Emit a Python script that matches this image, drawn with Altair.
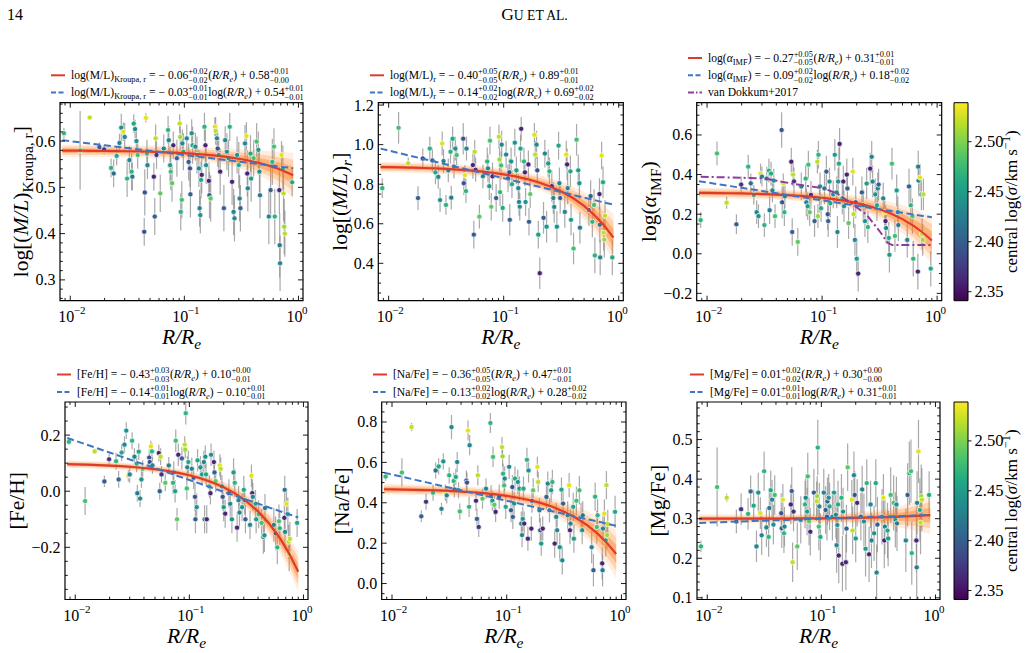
import math
import altair as alt
import pandas as pd

FONT = "Liberation Serif"
W, H = 1027, 653

# ---------------------------------------------------------------- data
# radial bins (R/Re) and the central velocity dispersion of their host galaxy
R_RE = [0.0088, 0.0122, 0.0148, 0.018, 0.0198, 0.0228, 0.024, 0.0255, 0.027, 0.028,
        0.0292, 0.030, 0.0315, 0.033, 0.0345, 0.035, 0.036, 0.037, 0.038, 0.039,
        0.0445, 0.045, 0.046, 0.047, 0.0475, 0.054, 0.055, 0.056, 0.057, 0.0615,
        0.066, 0.072, 0.073, 0.075, 0.076, 0.078, 0.080, 0.086, 0.091, 0.092,
        0.093, 0.095, 0.096, 0.098, 0.105, 0.109, 0.112, 0.113, 0.116, 0.118,
        0.125, 0.129, 0.134, 0.136, 0.138, 0.140, 0.142, 0.150, 0.153, 0.155,
        0.164, 0.166, 0.170, 0.185, 0.188, 0.193, 0.196, 0.200, 0.206, 0.222,
        0.228, 0.236, 0.244, 0.250, 0.262, 0.270, 0.275, 0.290, 0.300, 0.305,
        0.310, 0.340, 0.350, 0.356, 0.360, 0.380, 0.385, 0.405, 0.430, 0.445,
        0.455, 0.460, 0.550, 0.570, 0.590, 0.610, 0.620, 0.680, 0.685, 0.690,
        0.710, 0.730, 0.740, 0.750, 0.760, 0.880]

LOG_SIGMA = [2.47, 2.48, 2.52, 2.40, 2.37, 2.47, 2.41, 2.46, 2.43, 2.44,
             2.53, 2.43, 2.47, 2.43, 2.47, 2.42, 2.46, 2.43, 2.44, 2.48,
             2.39, 2.39, 2.53, 2.47, 2.43, 2.36, 2.40, 2.52, 2.37, 2.49,
             2.43, 2.47, 2.43, 2.45, 2.48, 2.49, 2.36, 2.40, 2.52, 2.51,
             2.47, 2.48, 2.43, 2.46, 2.43, 2.40, 2.39, 2.40, 2.44, 2.46,
             2.44, 2.45, 2.43, 2.43, 2.44, 2.46, 2.36, 2.47, 2.36, 2.44,
             2.36, 2.40, 2.49, 2.53, 2.52, 2.43, 2.39, 2.45, 2.36, 2.40,
             2.43, 2.44, 2.45, 2.47, 2.36, 2.43, 2.43, 2.44, 2.46, 2.43,
             2.40, 2.43, 2.53, 2.36, 2.43, 2.46, 2.45, 2.48, 2.48, 2.45,
             2.44, 2.42, 2.43, 2.40, 2.47, 2.48, 2.47, 2.36, 2.42, 2.43,
             2.53, 2.46, 2.52, 2.51, 2.52, 2.46]

ML_KROUPA = [0.617, 0.580, 0.651, 0.587, 0.582, 0.542, 0.530, 0.568, 0.596, 0.629,
             0.620, 0.609, 0.519, 0.559, 0.534, 0.523, 0.638, 0.626, 0.600, 0.570,
             0.404, 0.489, 0.650, 0.573, 0.548, 0.523, 0.437, 0.606, 0.570, 0.487,
             0.584, 0.624, 0.602, 0.548, 0.534, 0.509, 0.591, 0.563, 0.638, 0.609,
             0.447, 0.473, 0.595, 0.577, 0.606, 0.555, 0.541, 0.485, 0.617, 0.591,
             0.588, 0.570, 0.541, 0.455, 0.440, 0.516, 0.527, 0.631, 0.591, 0.548,
             0.514, 0.483, 0.476, 0.631, 0.622, 0.606, 0.584, 0.570, 0.534, 0.455,
             0.602, 0.577, 0.563, 0.631, 0.512, 0.447, 0.433, 0.570, 0.548, 0.476,
             0.455, 0.595, 0.611, 0.530, 0.498, 0.573, 0.519, 0.563, 0.599, 0.581,
             0.534, 0.483, 0.437, 0.494, 0.555, 0.588, 0.437, 0.494, 0.375, 0.336,
             0.570, 0.541, 0.487, 0.415, 0.400, 0.511]
ML_KROUPA_ERR = [0.012, 0.085, 0.005, 0.010, 0.010, 0.020, 0.030, 0.020, 0.020, 0.030,
                 0.020, 0.030, 0.040, 0.030, 0.040, 0.030, 0.020, 0.020, 0.030, 0.030,
                 0.030, 0.050, 0.010, 0.030, 0.030, 0.030, 0.040, 0.030, 0.030, 0.040,
                 0.030, 0.030, 0.030, 0.040, 0.040, 0.040, 0.030, 0.040, 0.020, 0.030,
                 0.040, 0.040, 0.030, 0.040, 0.030, 0.040, 0.040, 0.050, 0.030, 0.040,
                 0.030, 0.040, 0.040, 0.040, 0.040, 0.040, 0.040, 0.030, 0.040, 0.040,
                 0.040, 0.050, 0.050, 0.020, 0.030, 0.030, 0.040, 0.040, 0.050, 0.050,
                 0.030, 0.040, 0.040, 0.030, 0.050, 0.050, 0.050, 0.040, 0.050, 0.050,
                 0.050, 0.040, 0.030, 0.050, 0.050, 0.040, 0.050, 0.040, 0.040, 0.040,
                 0.050, 0.050, 0.060, 0.060, 0.050, 0.040, 0.060, 0.050, 0.070, 0.060,
                 0.030, 0.050, 0.060, 0.060, 0.050, 0.030]

ML_R = [0.780, 1.085, 0.905, 0.730, 0.930, 0.980, 0.920, 0.860, 0.837, 0.720,
        1.006, 0.917, 0.695, 0.870, 0.964, 0.732, 1.030, 0.889, 0.980, 0.947,
        1.030, 0.805, 0.846, 0.765, 0.980, 0.897, 0.545, 0.964, 0.873, 0.636,
        0.840, 0.915, 0.880, 0.790, 1.020, 0.686, 0.840, 0.730, 1.040, 0.925,
        0.760, 0.895, 1.000, 0.680, 0.950, 0.830, 0.860, 0.620, 0.915, 0.800,
        1.010, 0.870, 0.780, 0.710, 0.686, 0.980, 1.080, 0.915, 0.860, 0.710,
        0.900, 0.610, 0.750, 1.050, 0.950, 1.000, 0.870, 0.545, 0.350, 0.630,
        0.955, 0.585, 0.905, 0.865, 0.790, 0.730, 0.685, 0.585, 0.995, 0.805,
        0.730, 0.660, 0.950, 0.900, 0.780, 0.865, 0.620, 0.475, 1.025, 0.870,
        0.805, 0.580, 0.670, 0.740, 0.610, 0.695, 0.440, 0.750, 0.595, 0.430,
        0.945, 0.810, 0.555, 0.520, 0.640, 0.430]
ML_R_ERR = [0.05, 0.08, 0.03, 0.06, 0.05, 0.06, 0.06, 0.06, 0.06, 0.06,
            0.06, 0.06, 0.05, 0.06, 0.06, 0.06, 0.06, 0.06, 0.06, 0.05,
            0.08, 0.06, 0.05, 0.06, 0.06, 0.07, 0.07, 0.06, 0.06, 0.06,
            0.06, 0.07, 0.07, 0.07, 0.07, 0.07, 0.07, 0.07, 0.06, 0.06,
            0.07, 0.07, 0.07, 0.07, 0.07, 0.07, 0.07, 0.08, 0.07, 0.07,
            0.07, 0.07, 0.07, 0.07, 0.07, 0.07, 0.06, 0.07, 0.07, 0.07,
            0.07, 0.07, 0.07, 0.06, 0.07, 0.07, 0.07, 0.07, 0.08, 0.08,
            0.07, 0.08, 0.07, 0.07, 0.08, 0.08, 0.08, 0.08, 0.07, 0.08,
            0.08, 0.08, 0.07, 0.08, 0.08, 0.08, 0.08, 0.08, 0.08, 0.08,
            0.08, 0.08, 0.08, 0.08, 0.08, 0.08, 0.09, 0.08, 0.09, 0.09,
            0.07, 0.08, 0.09, 0.09, 0.08, 0.09]

LOG_ALPHA = [0.170, 0.507, 0.258, 0.149, 0.350, 0.440, 0.356, 0.297, 0.210, 0.190,
             0.405, 0.390, 0.145, 0.380, 0.420, 0.220, 0.405, 0.320, 0.370, 0.190,
             0.625, 0.260, 0.356, 0.210, 0.290, 0.465, 0.110, 0.400, 0.366, 0.060,
             0.340, 0.380, 0.260, 0.240, 0.450, 0.210, 0.297, 0.165, 0.465, 0.190,
             0.500, 0.280, 0.340, 0.230, 0.330, 0.415, 0.200, 0.165, 0.365, 0.255,
             0.300, 0.500, 0.310, 0.110, 0.365, 0.455, 0.555, 0.280, 0.365, 0.240,
             0.400, 0.330, 0.155, 0.415, 0.200, 0.070, 0.260, -0.025, -0.100, 0.310,
             0.245, 0.165, 0.355, 0.135, 0.430, 0.490, 0.365, 0.300, 0.245, 0.330,
             0.350, 0.280, 0.210, 0.165, 0.130, 0.080, -0.005, 0.455, 0.090, 0.320,
             0.210, 0.145, 0.070, 0.340, 0.245, 0.190, -0.025, -0.090, 0.440, 0.370,
             0.385, 0.300, 0.100, 0.070, 0.300, -0.075]
LOG_ALPHA_ERR = [0.04, 0.06, 0.03, 0.05, 0.04, 0.06, 0.05, 0.05, 0.06, 0.06,
                 0.05, 0.05, 0.06, 0.06, 0.06, 0.07, 0.06, 0.06, 0.06, 0.06,
                 0.09, 0.08, 0.05, 0.07, 0.06, 0.07, 0.07, 0.06, 0.07, 0.07,
                 0.07, 0.07, 0.07, 0.07, 0.07, 0.07, 0.07, 0.08, 0.06, 0.06,
                 0.07, 0.07, 0.07, 0.07, 0.08, 0.08, 0.08, 0.08, 0.07, 0.07,
                 0.07, 0.08, 0.08, 0.08, 0.07, 0.08, 0.08, 0.08, 0.08, 0.08,
                 0.08, 0.08, 0.08, 0.07, 0.07, 0.08, 0.08, 0.09, 0.09, 0.08,
                 0.08, 0.08, 0.08, 0.08, 0.08, 0.08, 0.08, 0.08, 0.08, 0.08,
                 0.08, 0.08, 0.07, 0.08, 0.08, 0.08, 0.09, 0.08, 0.08, 0.08,
                 0.08, 0.08, 0.09, 0.09, 0.09, 0.09, 0.09, 0.09, 0.08, 0.08,
                 0.07, 0.08, 0.08, 0.08, 0.08, 0.09]

FE_H = [0.176, -0.035, 0.142, 0.035, 0.114, 0.107, 0.042, 0.138, 0.166, 0.216,
        0.055, 0.060, 0.180, 0.123, 0.098, -0.007, 0.141, -0.026, 0.042, 0.080,
        0.120, 0.104, 0.160, 0.142, 0.092, 0.136, 0.000, 0.123, 0.060, 0.030,
        0.092, 0.030, 0.067, 0.000, 0.180, -0.100, 0.130, 0.117, 0.166, 0.148,
        0.278, 0.010, 0.085, 0.104, 0.080, 0.048, -0.020, -0.100, -0.057, 0.110,
        0.085, 0.060, 0.104, -0.100, 0.123, 0.060, -0.100, 0.017, -0.007, 0.130,
        0.104, 0.067, 0.036, 0.092, 0.080, 0.017, -0.020, -0.057, -0.080, -0.007,
        -0.045, -0.100, 0.067, 0.030, -0.130, -0.032, -0.076, -0.057, 0.005, -0.032,
        -0.100, -0.120, 0.055, -0.007, -0.020, -0.045, -0.100, -0.082, -0.113, -0.163,
        -0.157, -0.060, -0.120, -0.150, -0.200, -0.107, -0.132, -0.095, 0.005, -0.145,
        -0.045, -0.082, -0.180, -0.225, -0.170, -0.113]
FE_H_ERR = [0.01, 0.05, 0.01, 0.02, 0.02, 0.03, 0.03, 0.03, 0.03, 0.03,
            0.02, 0.03, 0.03, 0.03, 0.03, 0.03, 0.03, 0.03, 0.03, 0.03,
            0.03, 0.03, 0.02, 0.03, 0.03, 0.03, 0.03, 0.03, 0.03, 0.03,
            0.03, 0.04, 0.04, 0.04, 0.04, 0.04, 0.04, 0.04, 0.03, 0.03,
            0.04, 0.04, 0.04, 0.04, 0.04, 0.04, 0.05, 0.05, 0.05, 0.04,
            0.04, 0.04, 0.04, 0.05, 0.04, 0.04, 0.05, 0.04, 0.04, 0.04,
            0.04, 0.04, 0.04, 0.04, 0.04, 0.04, 0.05, 0.05, 0.05, 0.05,
            0.05, 0.05, 0.05, 0.05, 0.05, 0.05, 0.05, 0.05, 0.05, 0.05,
            0.05, 0.05, 0.04, 0.05, 0.05, 0.05, 0.05, 0.05, 0.05, 0.06,
            0.06, 0.05, 0.06, 0.06, 0.06, 0.06, 0.06, 0.06, 0.05, 0.06,
            0.05, 0.06, 0.06, 0.06, 0.06, 0.05]

NA_FE = [0.530, 0.550, 0.775, 0.333, 0.405, 0.450, 0.560, 0.580, 0.370, 0.605,
         0.450, 0.437, 0.536, 0.775, 0.508, 0.466, 0.528, 0.602, 0.462, 0.357,
         0.510, 0.500, 0.758, 0.380, 0.685, 0.410, 0.320, 0.536, 0.280, 0.420,
         0.470, 0.795, 0.437, 0.410, 0.627, 0.390, 0.355, 0.430, 0.676, 0.630,
         0.544, 0.486, 0.520, 0.380, 0.578, 0.363, 0.478, 0.330, 0.396, 0.520,
         0.503, 0.470, 0.297, 0.240, 0.320, 0.470, 0.297, 0.613, 0.222, 0.560,
         0.272, 0.410, 0.462, 0.578, 0.503, 0.363, 0.264, 0.198, 0.272, 0.429,
         0.495, 0.363, 0.462, 0.503, 0.198, 0.330, 0.264, 0.180, 0.465, 0.115,
         0.396, 0.338, 0.487, 0.264, 0.297, 0.380, 0.222, 0.410, 0.462, 0.330,
         0.264, 0.338, 0.180, 0.066, 0.430, 0.280, 0.338, 0.100, 0.066, 0.272,
         0.346, 0.214, 0.487, 0.240, 0.295, 0.355]
NA_FE_ERR = [0.02, 0.07, 0.02, 0.03, 0.04, 0.04, 0.04, 0.04, 0.03, 0.04,
             0.04, 0.04, 0.04, 0.06, 0.04, 0.04, 0.04, 0.05, 0.04, 0.04,
             0.05, 0.05, 0.05, 0.05, 0.05, 0.05, 0.05, 0.05, 0.05, 0.05,
             0.05, 0.05, 0.05, 0.05, 0.05, 0.05, 0.05, 0.06, 0.05, 0.05,
             0.05, 0.05, 0.06, 0.06, 0.06, 0.06, 0.06, 0.06, 0.06, 0.06,
             0.06, 0.06, 0.06, 0.06, 0.06, 0.06, 0.06, 0.06, 0.06, 0.06,
             0.06, 0.06, 0.06, 0.05, 0.05, 0.06, 0.06, 0.06, 0.06, 0.06,
             0.06, 0.06, 0.06, 0.06, 0.07, 0.07, 0.07, 0.07, 0.06, 0.07,
             0.06, 0.07, 0.06, 0.07, 0.07, 0.07, 0.07, 0.07, 0.07, 0.07,
             0.07, 0.07, 0.08, 0.08, 0.07, 0.08, 0.08, 0.08, 0.08, 0.08,
             0.07, 0.08, 0.07, 0.07, 0.07, 0.08]

MG_FE = [0.230, 0.380, 0.353, 0.293, 0.324, 0.312, 0.369, 0.333, 0.230, 0.366,
         0.314, 0.258, 0.420, 0.278, 0.254, 0.327, 0.372, 0.348, 0.285, 0.360,
         0.314, 0.276, 0.348, 0.263, 0.280, 0.336, 0.370, 0.190, 0.318, 0.230,
         0.297, 0.336, 0.353, 0.318, 0.407, 0.293, 0.267, 0.366, 0.344, 0.357,
         0.480, 0.280, 0.331, 0.254, 0.366, 0.322, 0.305, 0.344, 0.353, 0.331,
         0.305, 0.366, 0.310, 0.233, 0.284, 0.336, 0.207, 0.353, 0.186, 0.318,
         0.190, 0.275, 0.430, 0.348, 0.270, 0.410, 0.360, 0.250, 0.340, 0.305,
         0.374, 0.293, 0.224, 0.390, 0.210, 0.336, 0.245, 0.263, 0.390, 0.164,
         0.285, 0.305, 0.353, 0.245, 0.280, 0.270, 0.250, 0.360, 0.340, 0.297,
         0.336, 0.288, 0.245, 0.360, 0.415, 0.420, 0.213, 0.245, 0.177, 0.340,
         0.470, 0.322, 0.290, 0.357, 0.348, 0.360]
MG_FE_ERR = [0.015, 0.10, 0.01, 0.03, 0.04, 0.04, 0.04, 0.04, 0.04, 0.05,
             0.04, 0.05, 0.05, 0.05, 0.05, 0.05, 0.05, 0.05, 0.05, 0.05,
             0.05, 0.05, 0.04, 0.05, 0.05, 0.05, 0.06, 0.05, 0.05, 0.06,
             0.06, 0.06, 0.06, 0.06, 0.06, 0.06, 0.06, 0.06, 0.05, 0.05,
             0.07, 0.06, 0.06, 0.06, 0.06, 0.06, 0.06, 0.06, 0.06, 0.06,
             0.06, 0.06, 0.06, 0.07, 0.06, 0.06, 0.07, 0.06, 0.07, 0.06,
             0.07, 0.06, 0.06, 0.05, 0.06, 0.06, 0.06, 0.06, 0.06, 0.06,
             0.06, 0.07, 0.07, 0.06, 0.07, 0.06, 0.07, 0.07, 0.06, 0.07,
             0.07, 0.07, 0.06, 0.07, 0.07, 0.07, 0.07, 0.07, 0.07, 0.07,
             0.07, 0.07, 0.08, 0.08, 0.08, 0.08, 0.08, 0.08, 0.08, 0.08,
             0.08, 0.08, 0.08, 0.08, 0.08, 0.06]

# van Dokkum et al. (2017) IMF profile
VD17_X = [0.0088, 0.031, 0.053, 0.103, 0.135, 0.188, 0.245, 0.320, 0.375, 0.410, 0.900]
VD17_Y = [0.389, 0.381, 0.356, 0.330, 0.305, 0.246, 0.196, 0.110, 0.053, 0.044, 0.044]

# best fits quoted in the legends:
# linear in R/Re: slope, +err, -err, intercept, +err, -err
LIN_FIT = {
    "kroupa": (-0.06, 0.02, 0.02, 0.58, 0.01, 0.00),
    "mlr": (-0.40, 0.05, 0.05, 0.89, 0.01, 0.01),
    "alpha": (-0.27, 0.05, 0.05, 0.31, 0.01, 0.01),
    "feh": (-0.43, 0.03, 0.03, 0.10, 0.00, 0.01),
    "nafe": (-0.36, 0.05, 0.05, 0.47, 0.01, 0.01),
    "mgfe": (0.01, 0.02, 0.02, 0.30, 0.00, 0.00),
}
# linear in log(R/Re)
LOG_FIT = {
    "kroupa": (-0.03, 0.01, 0.01, 0.54, 0.01, 0.01),
    "mlr": (-0.14, 0.02, 0.02, 0.69, 0.02, 0.02),
    "alpha": (-0.09, 0.02, 0.02, 0.18, 0.02, 0.02),
    "feh": (-0.14, 0.01, 0.01, -0.10, 0.01, 0.01),
    "nafe": (-0.13, 0.02, 0.02, 0.28, 0.02, 0.02),
    "mgfe": (0.01, 0.01, 0.01, 0.31, 0.01, 0.01),
}
FIT_GRID = [0.0085, 0.01, 0.0125, 0.016, 0.02, 0.025, 0.032, 0.04, 0.05, 0.063, 0.08,
            0.1, 0.125, 0.16, 0.2, 0.25, 0.32, 0.4, 0.5, 0.63, 0.75, 0.9]

for arr in (LOG_SIGMA, ML_KROUPA, ML_KROUPA_ERR, ML_R, ML_R_ERR, LOG_ALPHA, LOG_ALPHA_ERR,
            FE_H, FE_H_ERR, NA_FE, NA_FE_ERR, MG_FE, MG_FE_ERR):
    assert len(arr) == len(R_RE), len(arr)

# ---------------------------------------------------------------- styling / layout
X_DOMAIN = [0.00813, 1.096]
CB_DOMAIN = [2.341, 2.539]
CB_TICKS = [2.35, 2.40, 2.45, 2.50]
RED, BLUE, PURPLE, ORANGE, GREY = "#e03a2c", "#3f75c4", "#8e3c9c", "#ff7f1e", "#8c8c8c"
BAND_LEVELS = [(2.6, 0.14), (1.8, 0.24), (1.0, 0.40)]
VIRIDIS = ["#440154", "#482475", "#414487", "#355f8d", "#2a788e", "#21918c",
           "#22a884", "#44bf70", "#7ad151", "#bddf26", "#fde725"]

TOP, BOT = (102.7, 300.7), (402.0, 599.5)
PANELS = [
    dict(key="kroupa", y=ML_KROUPA, e=ML_KROUPA_ERR, x0=60.0, x1=303.0, yb=TOP,
         ydom=[0.255, 0.683], yticks=[0.3, 0.4, 0.5, 0.6], ystep=0.02, tx=27.5, legend=(51, [75.3, 92.5])),
    dict(key="mlr", y=ML_R, e=ML_R_ERR, x0=378.3, x1=623.3, yb=TOP,
         ydom=[0.211, 1.212], yticks=[0.4, 0.6, 0.8, 1.0, 1.2], ystep=0.05, tx=346.5, legend=(370, [75.3, 92.5])),
    dict(key="alpha", y=LOG_ALPHA, e=LOG_ALPHA_ERR, x0=696.7, x1=941.7, yb=TOP,
         ydom=[-0.237, 0.763], yticks=[-0.2, 0.0, 0.2, 0.4, 0.6], ystep=0.05, tx=656, legend=(688, [58, 75.3, 92.5])),
    dict(key="feh", y=FE_H, e=FE_H_ERR, x0=65.0, x1=308.0, yb=BOT,
         ydom=[-0.386, 0.318], yticks=[-0.2, 0.0, 0.2], ystep=0.05, tx=23.5, legend=(57, [374.5, 392])),
    dict(key="nafe", y=NA_FE, e=NA_FE_ERR, x0=381.7, x1=626.0, yb=BOT,
         ydom=[-0.079, 0.899], yticks=[0.0, 0.2, 0.4, 0.6, 0.8], ystep=0.05, tx=349, legend=(373, [374.5, 392])),
    dict(key="mgfe", y=MG_FE, e=MG_FE_ERR, x0=697.0, x1=940.0, yb=BOT,
         ydom=[0.0957, 0.595], yticks=[0.1, 0.2, 0.3, 0.4, 0.5], ystep=0.02, tx=665, legend=(690, [374.5, 392])),
]
LHS = {
    "kroupa": [("r", "log(M/L)"), ("rs", "Kroupa, r")],
    "mlr": [("r", "log(M/L)"), ("rs", "r")],
    "alpha": [("r", "log("), ("i", "α"), ("rs", "IMF"), ("r", ")")],
    "feh": [("r", "[Fe/H]")],
    "nafe": [("r", "[Na/Fe]")],
    "mgfe": [("r", "[Mg/Fe]")],
}
YTITLE = {
    "kroupa": [("r", "log[("), ("i", "M/L"), ("r", ")"), ("rs", "Kroupa, r"), ("r", "]")],
    "mlr": [("r", "log[("), ("i", "M/L"), ("r", ")"), ("is", "r"), ("r", "]")],
    "alpha": [("r", "log("), ("i", "α"), ("rs", "IMF"), ("r", ")")],
    "feh": [("r", "[Fe/H]")],
    "nafe": [("r", "[Na/Fe]")],
    "mgfe": [("r", "[Mg/Fe]")],
}

# ---------------------------------------------------------------- text setting
ROMAN_W = {" ": 250, "(": 333, ")": 333, "[": 333, "]": 333, "+": 564, "−": 564, "=": 564,
           ".": 250, ",": 250, "/": 278, "A": 722, "D": 722, "E": 611, "F": 556, "G": 722,
           "H": 722, "I": 333, "K": 722, "L": 611, "M": 889, "N": 722, "R": 667, "T": 611,
           "U": 722, "a": 444, "c": 444, "e": 444, "g": 500, "k": 500, "l": 278, "m": 778,
           "n": 500, "o": 500, "p": 500, "r": 333, "s": 389, "t": 278, "u": 500, "v": 500,
           "α": 530, "σ": 540}
ITALIC_W = {"R": 611, "e": 444, "M": 833, "L": 556, "/": 278, "r": 389, "α": 530, "σ": 520}
SCRIPT = 0.72


def text_w(s, size, italic=False):
    table = ITALIC_W if italic else ROMAN_W
    return sum(table.get(ch, 500) for ch in s) * size / 1000.0


def typeset(tokens, F):
    out, adv = [], 0.0
    for tok in tokens:
        kind = tok[0]
        if kind == "pair":
            s = SCRIPT * F
            out.append((tok[1], adv, -0.42 * F, s, False))
            out.append((tok[2], adv, 0.30 * F, s, False))
            adv += max(text_w(tok[1], s), text_w(tok[2], s)) + 0.05 * F
            continue
        txt = tok[1]
        italic = kind in ("i", "is")
        if kind in ("r", "i"):
            s, shift = F, 0.0
        elif kind in ("rs", "is"):
            s, shift = SCRIPT * F, 0.24 * F
        elif kind == "rp":
            s, shift = SCRIPT * F, -0.40 * F
        else:  # small caps
            s, shift = 0.78 * F, 0.0
        lead = len(txt) - len(txt.lstrip(" "))
        core = txt.strip(" ")
        if core:
            out.append((core, adv + text_w(txt[:lead], s, italic), shift, s, italic))
        adv += text_w(txt, s, italic)
    return out, adv


ROMAN_ROWS, ITALIC_ROWS = [], []


def place(tokens, x, y, F, angle=0, anchor="start"):
    pieces, total = typeset(tokens, F)
    off = -total / 2 if anchor == "middle" else 0.0
    for txt, along, across, s, italic in pieces:
        a = along + off
        if angle == 0:
            px, py = x + a, y + across
        else:  # rotated 270: runs upwards
            px, py = x + across, y - a
        row = dict(t=txt, px=round(px, 2), py=round(py, 2), fs=round(s, 2), ang=angle)
        (ITALIC_ROWS if italic else ROMAN_ROWS).append(row)


def num(v):
    return ("− " if v < 0 else "") + f"{abs(v):.2f}"


def fit_tokens(key, fit, logform):
    a, ap, am, b, bp, bm = fit
    toks = list(LHS[key])
    toks.append(("r", " = " + num(a)))
    toks.append(("pair", f"+{ap:.2f}", f"−{am:.2f}"))
    toks.append(("r", "log(" if logform else "("))
    toks += [("i", "R/R"), ("is", "e")]
    toks.append(("r", ") " + ("− " if b < 0 else "+ ") + f"{abs(b):.2f}"))
    toks.append(("pair", f"+{bp:.2f}", f"−{bm:.2f}"))
    return toks


# ---------------------------------------------------------------- charts
LAYERS = []
MAJOR_X = [0.01, 0.1, 1.0]
MINOR_X = [0.009] + [k * 0.01 for k in range(2, 10)] + [k * 0.1 for k in range(2, 10)]


def minor_ticks(lo, hi, step, majors):
    out = []
    for n in range(math.ceil(lo / step - 1e-9), math.floor(hi / step + 1e-9) + 1):
        v = round(n * step, 4)
        if all(abs(v - m) > 1e-6 for m in majors):
            out.append(v)
    return out


def band_frame(key, k):
    a, ap, am, b, bp, bm = LIN_FIT[key]
    da, db = max((ap + am) / 2, 0.004), max((bp + bm) / 2, 0.004)
    rows = []
    for r in FIT_GRID:
        mid = a * r + b
        half = k * math.sqrt((da * r) ** 2 + db ** 2)
        rows.append(dict(r=r, lo=mid - half, hi=mid + half))
    return pd.DataFrame(rows)


LEG_F = 11.6
RED_S, BLUE_S, PURPLE_S, FRAMES = [], [], [], []

for p in PANELS:
    y0, y1 = p["yb"]
    xs = alt.Scale(type="log", domain=X_DOMAIN, range=[p["x0"], p["x1"]], nice=False)
    ys = alt.Scale(domain=p["ydom"], range=[y1, y0], nice=False, zero=False, clamp=True)
    key = p["key"]

    def X(f, xs=xs):
        return alt.X(f, scale=xs, axis=None)

    def Y(f, ys=ys):
        return alt.Y(f, scale=ys, axis=None)

    pts = pd.DataFrame({
        "r": R_RE, "v": p["y"], "c": LOG_SIGMA,
        "lo": [v - e for v, e in zip(p["y"], p["e"])],
        "hi": [v + e for v, e in zip(p["y"], p["e"])],
    })
    LAYERS.append(alt.Chart(pts).mark_rule(color=GREY, strokeWidth=1.2, opacity=0.75).encode(
        x=X("r:Q"), y=Y("lo:Q"), y2=alt.Y2("hi")))
    for k, op in BAND_LEVELS:
        LAYERS.append(alt.Chart(band_frame(key, k)).mark_area(color=ORANGE, opacity=op).encode(
            x=X("r:Q"), y=Y("lo:Q"), y2=alt.Y2("hi")))
    LAYERS.append(alt.Chart(pts).mark_circle(size=27, opacity=1, stroke="white", strokeWidth=0.7).encode(
        x=X("r:Q"), y=Y("v:Q"),
        color=alt.Color("c:Q", scale=alt.Scale(scheme="viridis", domain=CB_DOMAIN, clamp=True), legend=None)))

    a, _, _, b, _, _ = LIN_FIT[key]
    lin = pd.DataFrame({"r": FIT_GRID, "v": [a * r + b for r in FIT_GRID]})
    c, _, _, d, _, _ = LOG_FIT[key]
    lg = pd.DataFrame({"r": FIT_GRID, "v": [c * math.log10(r) + d for r in FIT_GRID]})
    LAYERS.append(alt.Chart(lin).mark_line(color=RED, strokeWidth=2.2).encode(x=X("r:Q"), y=Y("v:Q")))
    LAYERS.append(alt.Chart(lg).mark_line(color=BLUE, strokeWidth=2.0, strokeDash=[7, 3.5]).encode(
        x=X("r:Q"), y=Y("v:Q")))
    if key == "alpha":
        vd = pd.DataFrame({"r": VD17_X, "v": VD17_Y})
        LAYERS.append(alt.Chart(vd).mark_line(color=PURPLE, strokeWidth=2.0, strokeDash=[8, 3, 2, 3]).encode(
            x=X("r:Q"), y=Y("v:Q")))

    # inward ticks on all four sides, with the tick labels carried by the axes
    xt = []
    for t in MAJOR_X:
        xt += [dict(t=t, a=y1, b=y1 - 5), dict(t=t, a=y0, b=y0 + 5)]
    for t in MINOR_X:
        xt += [dict(t=t, a=y1, b=y1 - 2.8), dict(t=t, a=y0, b=y0 + 2.8)]
    LAYERS.append(alt.Chart(pd.DataFrame(xt)).mark_rule(color="black", strokeWidth=0.9).encode(
        x=alt.X("t:Q", scale=xs, axis=alt.Axis(
            orient="bottom", offset=y1 - H, values=MAJOR_X, labelExpr="'10'", labelAlign="right",
            labelOffset=3.5, labelBaseline="alphabetic", labelPadding=20.5, labelFont=FONT,
            labelFontSize=16, labelColor="black", ticks=False, tickSize=0, domain=False,
            grid=False, title=None, labelFlush=False, labelOverlap=False)),
        y=alt.Y("a:Q", scale=None, axis=None), y2=alt.Y2("b")))
    exps = pd.DataFrame({"t": MAJOR_X, "e": ["−2", "−1", "0"]})
    LAYERS.append(alt.Chart(exps).mark_text(font=FONT, fontSize=11, align="left", baseline="alphabetic",
                                            dx=3.5, color="black").encode(
        x=X("t:Q"), y=alt.value(y1 + 13.5), text="e:N"))

    yt = []
    for t in p["yticks"]:
        yt += [dict(t=t, a=p["x0"], b=p["x0"] + 5), dict(t=t, a=p["x1"], b=p["x1"] - 5)]
    for t in minor_ticks(p["ydom"][0], p["ydom"][1], p["ystep"], p["yticks"]):
        yt += [dict(t=t, a=p["x0"], b=p["x0"] + 2.8), dict(t=t, a=p["x1"], b=p["x1"] - 2.8)]
    LAYERS.append(alt.Chart(pd.DataFrame(yt)).mark_rule(color="black", strokeWidth=0.9).encode(
        y=alt.Y("t:Q", scale=ys, axis=alt.Axis(
            orient="left", offset=-p["x0"], values=p["yticks"], format=".1f", labelPadding=5,
            labelFont=FONT, labelFontSize=16, labelColor="black", labelAlign="right",
            labelBaseline="middle", ticks=False, tickSize=0, domain=False, grid=False,
            title=None, labelFlush=False, labelOverlap=False)),
        x=alt.X("a:Q", scale=None, axis=None), x2=alt.X2("b")))

    FRAMES.append(dict(xa=p["x0"], xb=p["x1"], ya=y0, yb=y1))

    # titles
    place([("i", "R/R"), ("is", "e")], (p["x0"] + p["x1"]) / 2, y1 + 43.0, 21.5, anchor="middle")
    place(YTITLE[key], p["tx"], (y0 + y1) / 2, 21.5, angle=270, anchor="middle")

    # legend
    sx, rows = p["legend"]
    RED_S.append(dict(xa=sx, xb=sx + 14, yy=rows[0]))
    BLUE_S.append(dict(xa=sx, xb=sx + 14, yy=rows[1]))
    place(fit_tokens(key, LIN_FIT[key], False), sx + 20, rows[0] + 3.8, LEG_F)
    place(fit_tokens(key, LOG_FIT[key], True), sx + 20, rows[1] + 3.8, LEG_F)
    if key == "alpha":
        PURPLE_S.append(dict(xa=sx, xb=sx + 14, yy=rows[2]))
        place([("r", "van Dokkum+2017")], sx + 20, rows[2] + 3.8, LEG_F)


def sample_layer(rows, color, dash=None):
    kw = dict(color=color, strokeWidth=2.0)
    if dash:
        kw["strokeDash"] = dash
    return alt.Chart(pd.DataFrame(rows)).mark_rule(**kw).encode(
        x=alt.X("xa:Q", scale=None, axis=None), x2=alt.X2("xb"), y=alt.Y("yy:Q", scale=None, axis=None))


LAYERS.append(sample_layer(RED_S, RED))
LAYERS.append(sample_layer(BLUE_S, BLUE, [5, 2.5]))
LAYERS.append(sample_layer(PURPLE_S, PURPLE, [6, 2, 1.5, 2]))

LAYERS.append(alt.Chart(pd.DataFrame(FRAMES)).mark_rect(fillOpacity=0, stroke="black", strokeWidth=1.2).encode(
    x=alt.X("xa:Q", scale=None, axis=None), x2=alt.X2("xb"),
    y=alt.Y("ya:Q", scale=None, axis=None), y2=alt.Y2("yb")))

# colour bars
CBARS = [dict(x0=954.0, x1=968.0, y0=TOP[0], y1=TOP[1]), dict(x0=954.0, x1=968.0, y0=BOT[0], y1=BOT[1])]
grad = alt.LinearGradient(
    gradient="linear", x1=0, x2=0, y1=1, y2=0,
    stops=[alt.GradientStop(color=col, offset=i / (len(VIRIDIS) - 1)) for i, col in enumerate(VIRIDIS)])
LAYERS.append(alt.Chart(pd.DataFrame(
    [dict(xa=cb["x0"], xb=cb["x1"], ya=cb["y0"], yb=cb["y1"]) for cb in CBARS])).mark_rect(
    fill=grad, stroke="black", strokeWidth=1).encode(
    x=alt.X("xa:Q", scale=None, axis=None), x2=alt.X2("xb"),
    y=alt.Y("ya:Q", scale=None, axis=None), y2=alt.Y2("yb")))
for cb in CBARS:
    cs = alt.Scale(domain=CB_DOMAIN, range=[cb["y1"], cb["y0"]], nice=False, zero=False)
    tdf = pd.DataFrame({"t": CB_TICKS, "a": [cb["x1"]] * 4, "b": [cb["x1"] + 3.5] * 4})
    LAYERS.append(alt.Chart(tdf).mark_rule(color="black", strokeWidth=0.9).encode(
        y=alt.Y("t:Q", scale=cs, axis=alt.Axis(
            orient="right", offset=cb["x1"] - W, values=CB_TICKS, format=".2f", labelPadding=6,
            labelFont=FONT, labelFontSize=16.5, labelColor="black", labelAlign="left",
            labelBaseline="middle", ticks=False, tickSize=0, domain=False, grid=False,
            title=None, labelFlush=False, labelOverlap=False)),
        x=alt.X("a:Q", scale=None, axis=None), x2=alt.X2("b")))
    place([("r", "central log("), ("i", "σ"), ("r", "/km s"), ("rp", "−1"), ("r", ")")],
          1017, (cb["y0"] + cb["y1"]) / 2, 17, angle=270, anchor="middle")

# running head
place([("r", "14")], 7, 20, 16)
place([("r", "G"), ("sc", "U ET AL.")], 535, 20, 17.5, anchor="middle")


def text_layer(rows, italic):
    kw = dict(font=FONT, align="left", baseline="alphabetic", color="black")
    if italic:
        kw["fontStyle"] = "italic"
    return alt.Chart(pd.DataFrame(rows)).mark_text(**kw).encode(
        x=alt.X("px:Q", scale=None, axis=None), y=alt.Y("py:Q", scale=None, axis=None),
        text="t:N", size=alt.Size("fs:Q", scale=None, legend=None),
        angle=alt.Angle("ang:Q", scale=None, legend=None))


LAYERS.append(text_layer(ROMAN_ROWS, False))
LAYERS.append(text_layer(ITALIC_ROWS, True))

chart = alt.layer(*LAYERS).resolve_scale(
    x="independent", y="independent", color="independent"
).properties(
    width=W, height=H, padding=0, autosize=alt.AutoSizeParams(type="none"), background="white"
).configure_view(stroke=None)

chart.save("out.html", embed_options={"renderer": "svg", "actions": False})
